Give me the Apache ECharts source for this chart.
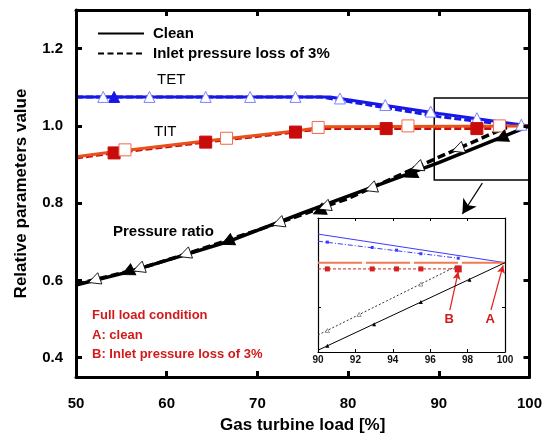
<!DOCTYPE html>
<html><head><meta charset="utf-8">
<script src="https://cdn.jsdelivr.net/npm/echarts@6/dist/echarts.min.js"></script>
<style>html,body{margin:0;padding:0;background:#fff}#c{width:545px;height:439px}</style>
</head><body><div id="c"></div>
<script>
const FONT = '"Liberation Sans", Arial, sans-serif';

// ---- main plot: [gas turbine load %, relative value] ----
const tetClean = [[50,1.075],[78,1.075],[90,1.032],[100,1.0]];
const tetLoss  = [[50,1.075],[77,1.075],[90,1.024],[97.5,1.003]];
const titClean = [[50,0.92],[54.2,0.933],[64.3,0.961],[74.2,0.987],[77.5,0.998],[100,1.0]];
const titLoss  = [[50,0.917],[54.2,0.93],[64.3,0.958],[74.2,0.984],[77,0.993],[97.5,0.993]];
const prClean  = [[50,0.588],[55.8,0.622],[62,0.666],[66.7,0.70],[75,0.775],[90,0.905],[100,1.0]];
const prLoss   = [[50,0.59],[56.9,0.63],[62,0.667],[70,0.73],[80,0.812],[90,0.919],[97.5,0.997]];

// symbols on the curves
const tetOpenMarks   = [[53.0,1.075],[58.1,1.075],[64.3,1.075],[69.2,1.075],[74.2,1.075],[79.1,1.071],[84.1,1.054],[89.1,1.037],[94.2,1.02],[99.1,1.003]];
const tetFilledMarks = [[54.2,1.075],[94.2,1.012]];
const titOpenMarks   = [[55.4,0.938],[66.6,0.968],[76.7,0.996],[86.6,1.0],[96.7,1.0]];
const titFilledMarks = [[54.2,0.93],[64.3,0.958],[74.2,0.984],[84.2,0.993],[94.2,0.993]];
const prOpenMarks    = [[52.0,0.60],[56.9,0.63],[62.0,0.667],[72.3,0.748],[77.4,0.79],[82.5,0.838],[87.6,0.893],[92.1,0.94]];
const prFilledMarks  = [[55.7,0.622],[66.7,0.70],[76.8,0.779],[86.9,0.874],[96.9,0.968]];

// ---- detail view near full load ----
const inTetClean = [[90,1.032],[100,1.0]];
const inTetLoss  = [[90,1.024],[97.5,1.005]];
const inTitClean = [[90,1.0],[100,1.0]];
const inTitLoss  = [[90,0.993],[97.5,0.993]];
const inPrClean  = [[90,0.902],[100,1.0]];
const inPrLoss   = [[90,0.919],[97.5,0.997]];
const inTetLossMarks = [[90.5,1.023],[92.9,1.017],[94.2,1.014],[95.5,1.01],[97.5,1.005]];
const inTitLossMarks = [[90.5,0.993],[92.9,0.993],[94.2,0.993],[95.5,0.993]];
const inTitLossEnd   = [[97.5,0.993]];
const inPrCleanMarks = [[90.5,0.907],[93.0,0.931],[95.5,0.956],[98.1,0.981]];
const inPrLossMarks  = [[90.5,0.924],[92.2,0.942],[95.5,0.976]];

// tick labels
const xTicks = [50,60,70,80,90,100];
const yTicks = [0.4,0.6,0.8,1.0,1.2];
const inXTicks = [90,92,94,96,98,100];

const BLUE = '#1717e6', BLUE_LT = '#7b84ff';
const ORANGE = '#e8501c', RED = '#c80c0c', RED_TXT = '#d21a1a';

const chart = echarts.init(document.getElementById('c'), null, {renderer:'canvas'});

function line(name, data, color, width, type, xi, yi, z) {
  return {type:'line', name, data, xAxisIndex:xi||0, yAxisIndex:yi||0, symbol:'none',
    lineStyle:{color, width, type:type||'solid'}, z:z||3, silent:true, animation:false};
}
function marks(data, symbol, size, fill, stroke, bw, xi, yi, rot, z) {
  return {type:'scatter', data, xAxisIndex:xi||0, yAxisIndex:yi||0, symbol, symbolSize:size,
    symbolRotate:rot||0, itemStyle:{color:fill, borderColor:stroke, borderWidth:bw, opacity:1},
    z:z||5, silent:true, animation:false};
}

const mainTickStyle = {show:true, inside:true, length:6, lineStyle:{color:'#000', width:3}};
const inTickStyle = {show:true, inside:true, length:3, lineStyle:{color:'#000', width:1}};

const option = {
  animation:false,
  backgroundColor:'#fff',
  textStyle:{fontFamily:FONT},
  legend:{
    data:[
      {name:'Clean', itemStyle:{opacity:0}},
      {name:'Inlet pressure loss of 3%', itemStyle:{opacity:0}}
    ],
    orient:'vertical', left:97, top:26, padding:0, itemWidth:46, itemHeight:14, itemGap:5,
    textStyle:{fontFamily:FONT, fontSize:15, fontWeight:'bold', color:'#000', padding:[0,0,0,4]},
    selectedMode:false
  },
  grid:[
    {left:76, top:10, width:458, height:368, containLabel:false},
    {left:318, top:218, width:187, height:134, show:true, backgroundColor:'#fff', borderWidth:0, z:4}
  ],
  xAxis:[
    {gridIndex:0, type:'value', min:50, max:100, interval:10, position:'bottom',
     name:'Gas turbine load [%]', nameLocation:'middle', nameGap:40,
     nameTextStyle:{fontFamily:FONT, fontSize:17, fontWeight:'bold', color:'#000'},
     axisLine:{show:true, lineStyle:{color:'#000', width:3}},
     axisTick:mainTickStyle, splitLine:{show:false},
     axisLabel:{fontFamily:FONT, fontSize:15, fontWeight:'bold', color:'#000', margin:19,
       customValues:xTicks, formatter:v=>String(v)}, z:6},
    {gridIndex:0, type:'value', min:50, max:100, interval:10, position:'top',
     axisLine:{show:true, lineStyle:{color:'#000', width:3}},
     axisTick:mainTickStyle, axisLabel:{show:false}, splitLine:{show:false}, z:6},
    {gridIndex:1, type:'value', min:90, max:100, interval:2, position:'bottom',
     axisLine:{show:true, lineStyle:{color:'#000', width:1.2}},
     axisTick:inTickStyle, splitLine:{show:false},
     axisLabel:{fontFamily:FONT, fontSize:10, fontWeight:'bold', color:'#111', margin:3,
       customValues:inXTicks, formatter:v=>String(v)}, z:6},
    {gridIndex:1, type:'value', min:90, max:100, interval:2, position:'top',
     axisLine:{show:true, lineStyle:{color:'#000', width:1.2}},
     axisTick:inTickStyle, axisLabel:{show:false}, splitLine:{show:false}, z:6}
  ],
  yAxis:[
    {gridIndex:0, type:'value', min:0.35, max:1.3, position:'left',
     name:'Relative parameters value', nameLocation:'middle', nameGap:46,
     nameTextStyle:{fontFamily:FONT, fontSize:17, fontWeight:'bold', color:'#000'},
     axisLine:{show:true, lineStyle:{color:'#000', width:3}},
     axisTick:Object.assign({customValues:yTicks}, mainTickStyle), splitLine:{show:false},
     axisLabel:{fontFamily:FONT, fontSize:15, fontWeight:'bold', color:'#000', margin:13,
       customValues:yTicks, formatter:v=>v.toFixed(1)}, z:6},
    {gridIndex:0, type:'value', min:0.35, max:1.3, position:'right',
     axisLine:{show:true, lineStyle:{color:'#000', width:3}},
     axisTick:Object.assign({customValues:yTicks}, mainTickStyle),
     axisLabel:{show:false}, splitLine:{show:false}, z:6},
    {gridIndex:1, type:'value', min:0.9, max:1.05, interval:0.05, position:'left',
     axisLine:{show:true, lineStyle:{color:'#000', width:1.2}},
     axisTick:inTickStyle, axisLabel:{show:false}, splitLine:{show:false}, z:6},
    {gridIndex:1, type:'value', min:0.9, max:1.05, interval:0.05, position:'right',
     axisLine:{show:true, lineStyle:{color:'#000', width:1.2}},
     axisTick:inTickStyle, axisLabel:{show:false}, splitLine:{show:false}, z:6}
  ],
  series:[
    // legend keys
    {type:'line', name:'Clean', data:[], symbol:'none', lineStyle:{color:'#000', width:3, type:'solid'}, itemStyle:{color:'#000'}},
    {type:'line', name:'Inlet pressure loss of 3%', data:[], symbol:'none', lineStyle:{color:'#000', width:3, type:[6,3.5]}, itemStyle:{color:'#000'}},

    // TET
    line('tetLoss', tetLoss, BLUE, 3, [7,3]),
    line('tetClean', tetClean, BLUE, 3),
    marks(tetFilledMarks, 'triangle', 11, BLUE, BLUE, 1),
    marks(tetOpenMarks, 'triangle', 11, '#fff', BLUE_LT, 1),

    // TIT
    line('titLoss', titLoss, RED, 3, [7,3]),
    line('titClean', titClean, ORANGE, 3),
    marks(titFilledMarks, 'rect', 12, RED, RED, 1),
    marks(titOpenMarks, 'rect', 12, '#fff', '#ef6a4a', 1),

    // Pressure ratio
    Object.assign(line('prLoss', prLoss, '#000', 3.5, [8,4]), {
      markLine:{silent:true, symbol:['none','arrow'], symbolSize:[12,14], animation:false,
        lineStyle:{color:'#000', width:1.2, type:'solid'}, label:{show:false},
        data:[[{coord:[94.8,0.852]},{coord:[92.6,0.772]}]]},
      markArea:{silent:true, itemStyle:{color:'rgba(0,0,0,0)', borderColor:'#000', borderWidth:1.5},
        data:[[{coord:[89.5,1.072]},{coord:[100,0.86]}]]}
    }),
    line('prClean', prClean, '#000', 3.5),
    marks(prFilledMarks, 'triangle', 12, '#000', '#000', 1, 0, 0, 115),
    marks(prOpenMarks, 'triangle', 12, '#fff', '#000', 0.8, 0, 0, 110),

    // detail view
    line('inTetClean', inTetClean, '#3b3bff', 1, 'solid', 2, 2, 6),
    line('inTetLoss', inTetLoss, '#3b3bff', 1, [5,2,1,2], 2, 2, 6),
    marks(inTetLossMarks, 'rect', 3, '#3b3bff', '#3b3bff', 0, 2, 2, 0, 7),
    line('inTitClean', inTitClean, '#f47a52', 2, [44,4], 2, 2, 6),
    line('inTitLoss', inTitLoss, '#d42020', 1, [3,2], 2, 2, 6),
    marks(inTitLossMarks, 'rect', 5, '#d42020', '#d42020', 0, 2, 2, 0, 7),
    marks(inTitLossEnd, 'rect', 7, '#d42020', '#d42020', 0, 2, 2, 0, 7),
    line('inPrLoss', inPrLoss, '#333', 1, [2,2], 2, 2, 6),
    marks(inPrLossMarks, 'triangle', 4, '#fff', '#555', 0.6, 2, 2, 0, 7),
    Object.assign(line('inPrClean', inPrClean, '#000', 1, 'solid', 2, 2, 6), {
      markLine:{silent:true, symbol:['none','arrow'], symbolSize:[6,8], animation:false,
        lineStyle:{color:'#e02020', width:1.2, type:'solid'},
        label:{show:true, position:'start', distance:3, color:RED_TXT, fontFamily:FONT,
          fontSize:13, fontWeight:'bold', formatter:p=>p.name},
        data:[
          [{name:'B', coord:[97.05,0.947]},{coord:[97.5,0.99]}],
          [{name:'A', coord:[99.25,0.947]},{coord:[99.9,0.997]}]
        ]}
    }),
    marks(inPrCleanMarks, 'triangle', 4, '#000', '#000', 0, 2, 2, 0, 7)
  ],
  graphic:[
    {type:'text', left:157, top:72, style:{text:'TET', font:'15px '+FONT, fill:'#000'}, z:10},
    {type:'text', left:154, top:124, style:{text:'TIT', font:'15px '+FONT, fill:'#000'}, z:10},
    {type:'text', left:113, top:224, style:{text:'Pressure ratio', font:'bold 15px '+FONT, fill:'#000'}, z:10},
    {type:'text', left:92, top:306, style:{text:'Full load condition\nA: clean\nB: Inlet pressure loss of 3%',
      font:'bold 13px '+FONT, fill:RED_TXT, lineHeight:19.5}, z:10}
  ]
};
chart.setOption(option);
</script>
</body></html>
